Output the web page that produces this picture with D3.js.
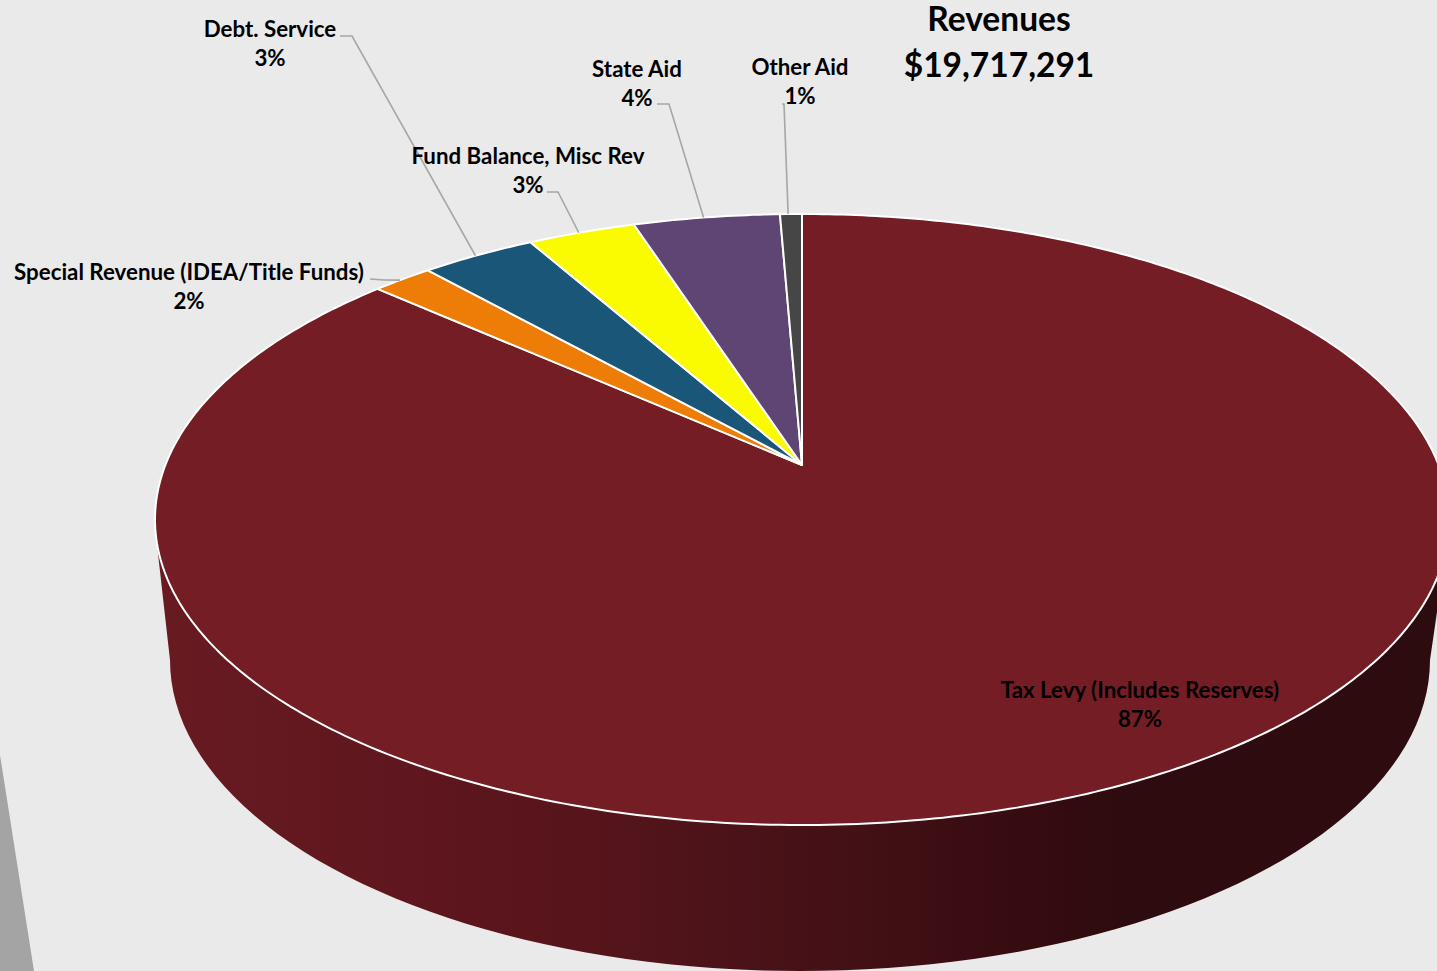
<!DOCTYPE html>
<html>
<head>
<meta charset="utf-8">
<script src="https://cdn.jsdelivr.net/npm/d3@7"></script>
<style>
html, body { margin: 0; padding: 0; overflow: hidden; background: #eaeaea; }
svg { display: block; }
text { font-family: Lato, "Open Sans", sans-serif; font-weight: 700; fill: #000; text-anchor: middle; }
</style>
</head>
<body>
<svg width="1437" height="971"></svg>
<script>
// values, clockwise from 12 o'clock
var categories = ["Tax Levy (Includes Reserves)", "Special Revenue (IDEA/Title Funds)", "Debt. Service", "Fund Balance, Misc Rev", "State Aid", "Other Aid"];
var shares = [86.6, 1.8, 3.4, 3.2, 4.35, 0.65];
var colors = ["#741d25", "#ed7d06", "#1a5678", "#fbfb00", "#5f4574", "#464646"];
var titleLines = ["Revenues", "$19,717,291"];

// label centres + leader start, same order as categories
var labelX = [1140, 189, 270, 528, 637, 800];
var labelY = [697, 279, 36, 163, 76, 74];
var leaderFrom = [null, [370, 279], [340, 36], [547, 192], [657, 104], [782, 104]];
var leaderElbow = [null, [384, 280], [352, 36], [558, 192], [669, 104], [784, 104]];

var svg = d3.select("svg"),
    width = +svg.attr("width"),
    height = +svg.attr("height");

// top face is a tilted disc in perspective: the apex sits above the ellipse centre
var cx = 802, apexY = 465, topY = 214, botY = 825, halfW = 647;
var c = (2 * apexY - topY - botY) / (botY - topY);
var a = botY * (1 + c) - apexY;
var R = halfW * Math.sqrt(1 - c * c);

function project(angle) {
    var u = Math.sin(angle), v = -Math.cos(angle), w = 1 + c * v;
    return [cx + R * u / w, (a * v + apexY) / w];
}

// bottom rim of the wall
var base = { x: 800, y: 660, rx: 630, ry: 311 };
function baseRim(t) {
    return [base.x + base.rx * Math.cos(t), base.y + base.ry * Math.sin(t)];
}

var pie = d3.pie().sort(null).startAngle(0).endAngle(2 * Math.PI);
var arcs = pie(shares);
var line = d3.line();

function slicePath(d) {
    var n = Math.max(4, Math.ceil((d.endAngle - d.startAngle) * 80));
    var pts = d3.range(n + 1).map(function(i) {
        return project(d.startAngle + (d.endAngle - d.startAngle) * i / n);
    });
    return line([[cx, apexY]].concat(pts)) + "Z";
}

var defs = svg.append("defs");
var grad = defs.append("linearGradient").attr("id", "wall")
    .attr("gradientUnits", "userSpaceOnUse")
    .attr("x1", 160).attr("x2", 1437).attr("y1", 0).attr("y2", 0);
[[0, "#681a21"], [0.2, "#5f161e"], [0.33, "#57141b"], [0.45, "#4b1319"], [0.56, "#411015"], [0.66, "#380c11"], [0.76, "#2e0b0e"], [1, "#2d0c0f"]]
    .forEach(function(s) { grad.append("stop").attr("offset", s[0]).attr("stop-color", s[1]); });

// grey sliver in the lower left corner
svg.append("path")
    .attr("d", line([[0, 755], [34, 971], [0, 971]]) + "Z")
    .attr("fill", "#a4a4a4");

// wall
var wallPts = [project(104 * Math.PI / 180)]
    .concat(d3.range(0, 181, 2).map(function(deg) { return baseRim(deg * Math.PI / 180); }))
    .concat([project(256 * Math.PI / 180)]);
svg.append("path")
    .attr("d", line(wallPts) + "Z")
    .attr("fill", "url(#wall)");

// top face
svg.selectAll("path.slice")
    .data(arcs)
    .enter().append("path")
    .attr("class", "slice")
    .attr("d", slicePath)
    .attr("fill", function(d, i) { return colors[i]; })
    .attr("stroke", "#fff")
    .attr("stroke-width", 2)
    .attr("stroke-linejoin", "round");

// leader lines, ending on the rim just left of the middle of the slice
var leaderNudge = 0.3 * Math.PI / 180;
arcs.forEach(function(d, i) {
    if (!leaderFrom[i]) return;
    svg.append("path")
        .attr("d", line([leaderFrom[i], leaderElbow[i], project((d.startAngle + d.endAngle) / 2 - leaderNudge)]))
        .attr("fill", "none")
        .attr("stroke", "#a6a6a6")
        .attr("stroke-width", 1.6);
});

// labels
var pct = d3.format(".0f");
categories.forEach(function(name, i) {
    var t = svg.append("text").attr("x", labelX[i]).attr("y", labelY[i] + 0.5).style("font-size", "22.3px");
    t.append("tspan").attr("x", labelX[i]).text(name);
    t.append("tspan").attr("x", labelX[i]).attr("dy", 29.5).text(pct(shares[i]) + "%");
});

svg.append("text").attr("x", 999).attr("y", 31).style("font-size", "33.5px").text(titleLines[0]);
svg.append("text").attr("x", 999).attr("y", 77).style("font-size", "33.5px").text(titleLines[1]);
</script>
</body>
</html>
